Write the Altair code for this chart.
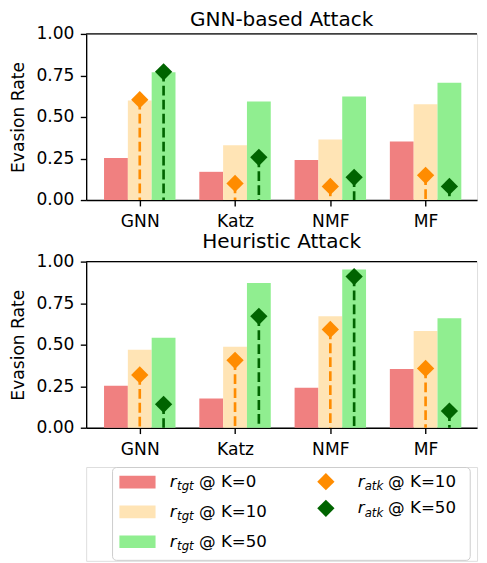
import altair as alt
import pandas as pd

# ---------------- data ----------------
models = ["GNN", "Katz", "NMF", "MF"]
bar_series = ["r_tgt @ K=0", "r_tgt @ K=10", "r_tgt @ K=50"]
marker_series = ["r_atk @ K=10", "r_atk @ K=50"]

gnn_tgt_k0 = [0.253, 0.170, 0.241, 0.353]
gnn_tgt_k10 = [0.600, 0.330, 0.365, 0.576]
gnn_tgt_k50 = [0.770, 0.594, 0.624, 0.706]
gnn_atk_k10 = [0.604, 0.100, 0.082, 0.149]
gnn_atk_k50 = [0.772, 0.257, 0.137, 0.082]

heu_tgt_k0 = [0.253, 0.176, 0.241, 0.353]
heu_tgt_k10 = [0.470, 0.488, 0.671, 0.582]
heu_tgt_k50 = [0.541, 0.871, 0.953, 0.659]
heu_atk_k10 = [0.318, 0.406, 0.592, 0.357]
heu_atk_k50 = [0.141, 0.671, 0.910, 0.100]

bar_colors = ["#F08080", "#FFE4B5", "#90EE90"]
marker_colors = ["#FF8C00", "#006400"]

FONT = "DejaVu Sans"
BAR_W = 0.25
PLOT_W = 400
PLOT_H = 170
X_DOMAIN = [-0.5625, -0.5625 + PLOT_W / 97.5]
y_ticks = [0.0, 0.25, 0.5, 0.75, 1.0]

label_expr = "[" + ",".join("'%s'" % m for m in models) + "][datum.value]"

xscale = alt.Scale(domain=X_DOMAIN, nice=False, zero=False)
yscale = alt.Scale(domain=[0, 1], nice=False)

xaxis = alt.Axis(values=[0, 1, 2, 3], labelExpr=label_expr, title=None,
                 grid=False, tickSize=6, tickWidth=1.4, domainWidth=1.4,
                 domainColor="black", tickColor="black", labelColor="black",
                 labelFontSize=17.5, labelFont=FONT, labelPadding=7.5,
                 labelFlush=False, labelOverlap=False)
yaxis = alt.Axis(values=y_ticks, format=".2f", title="Evasion Rate",
                 grid=False, tickSize=6, tickWidth=1.4, domainWidth=1.4,
                 domainColor="black", tickColor="black", labelColor="black",
                 labelFontSize=17.5, labelFont=FONT, labelPadding=6.5,
                 titleFontSize=17.5, titleFont=FONT, titleFontWeight="normal",
                 titleColor="black", titlePadding=8.5, labelFlush=False)


def panel(title, title_offset, tgt_lists, atk_lists):
    bar_rows = []
    for j, (series, vals) in enumerate(zip(bar_series, tgt_lists)):
        for i, (m, v) in enumerate(zip(models, vals)):
            left = i + (j - 1) * BAR_W - BAR_W / 2
            bar_rows.append({"model": m, "series": series, "x": left,
                             "x2": left + BAR_W, "value": v})
    bars_df = pd.DataFrame(bar_rows)

    mk_rows = []
    for j, (series, vals) in enumerate(zip(marker_series, atk_lists)):
        for i, (m, v) in enumerate(zip(models, vals)):
            mk_rows.append({"model": m, "series": series,
                            "x": i + j * BAR_W, "value": v})
    mk_df = pd.DataFrame(mk_rows)

    X = alt.X("x:Q", scale=xscale, axis=xaxis, title=None)
    Y = alt.Y("value:Q", scale=yscale, axis=yaxis, title="Evasion Rate")

    bars = alt.Chart(bars_df).mark_bar().encode(
        x=X, x2="x2:Q", y=Y, y2=alt.datum(0),
        color=alt.Color("series:N", scale=alt.Scale(domain=bar_series, range=bar_colors),
                        legend=None),
    )

    stems = alt.Chart(mk_df).mark_rule(strokeWidth=2.7, strokeDash=[10, 4.3]).encode(
        x=X, y=Y, y2=alt.datum(0),
        color=alt.Color("series:N", scale=alt.Scale(domain=marker_series, range=marker_colors),
                        legend=None),
    )

    points = alt.Chart(mk_df).mark_point(shape="diamond", filled=True, size=313,
                                         opacity=1, strokeWidth=0).encode(
        x=X, y=Y,
        fill=alt.Fill("series:N", scale=alt.Scale(domain=marker_series, range=marker_colors),
                      legend=None),
    )

    top_spine = alt.Chart(pd.DataFrame({"value": [1.0]})).mark_rule(
        color="black", strokeWidth=1.4).encode(
        y=Y, x=alt.value(0), x2=alt.value(PLOT_W),
    )

    return alt.layer(bars, stems, points, top_spine).resolve_scale(
        color="independent").properties(
        width=PLOT_W, height=PLOT_H,
        title=alt.TitleParams(title, fontSize=20.5, font=FONT, fontWeight="normal",
                              color="black", anchor="middle", offset=title_offset),
    )


top = panel("GNN-based Attack", -5.25,
            [gnn_tgt_k0, gnn_tgt_k10, gnn_tgt_k50], [gnn_atk_k10, gnn_atk_k50])
bottom = panel("Heuristic Attack", 0.0,
               [heu_tgt_k0, heu_tgt_k10, heu_tgt_k50], [heu_atk_k10, heu_atk_k50])

# ---------------- custom legend (matplotlib style, with subscripts) ----------------
LEG_W = 400
LEG_H = 96
BOX_LEFT_IN_VIEW = 27
lx = alt.Scale(domain=[-BOX_LEFT_IN_VIEW, LEG_W - BOX_LEFT_IN_VIEW], nice=False, zero=False)
ly = alt.Scale(domain=[0, LEG_H], nice=False, zero=False, reverse=True)

box_df = pd.DataFrame({"x": [0.0], "x2": [366.0], "y": [0.5], "y2": [95.5]})
box = alt.Chart(box_df).mark_rect(fill="white", stroke="#cccccc", strokeWidth=1,
                                  cornerRadius=4).encode(
    x=alt.X("x:Q", scale=lx, axis=None), x2="x2:Q",
    y=alt.Y("y:Q", scale=ly, axis=None), y2="y2:Q")

row_gap = 30.5
sw_rows = []
for j, s in enumerate(bar_series):
    c = 15.5 + row_gap * j
    sw_rows.append({"series": s, "x": 7, "x2": 44, "y": c - 6.5, "y2": c + 6.5,
                    "base": c + 5, "sub": s.split(" @ ")[0].split("_")[1],
                    "rest": "@ " + s.split(" @ ")[1]})
sw_df = pd.DataFrame(sw_rows)
swatches = alt.Chart(sw_df).mark_rect().encode(
    x=alt.X("x:Q", scale=lx, axis=None), x2="x2:Q",
    y=alt.Y("y:Q", scale=ly, axis=None), y2="y2:Q",
    color=alt.Color("series:N", scale=alt.Scale(domain=bar_series, range=bar_colors),
                    legend=None))

mk_leg_rows = []
for j, s in enumerate(marker_series):
    c = 15 + 27.3 * j
    mk_leg_rows.append({"series": s, "x": 218.3, "y": c, "base": c + 5,
                        "sub": s.split(" @ ")[0].split("_")[1],
                        "rest": "@ " + s.split(" @ ")[1]})
mk_leg_df = pd.DataFrame(mk_leg_rows)
leg_points = alt.Chart(mk_leg_df).mark_point(shape="diamond", filled=True, size=313,
                                             opacity=1, strokeWidth=0).encode(
    x=alt.X("x:Q", scale=lx, axis=None),
    y=alt.Y("y:Q", scale=ly, axis=None),
    fill=alt.Fill("series:N", scale=alt.Scale(domain=marker_series, range=marker_colors),
                  legend=None))


def leg_text(df, r_x, sub_x, rest_x):
    d = df.assign(rx=r_x, sx=sub_x, tx=rest_x)
    d["sbase"] = d["base"] + 3.5
    r = alt.Chart(d).mark_text(text="r", align="left", baseline="alphabetic",
                               font=FONT, fontSize=17, fontStyle="italic",
                               color="black").encode(
        x=alt.X("rx:Q", scale=lx, axis=None), y=alt.Y("base:Q", scale=ly, axis=None))
    sub = alt.Chart(d).mark_text(align="left", baseline="alphabetic",
                                 font=FONT, fontSize=12, fontStyle="italic",
                                 color="black").encode(
        x=alt.X("sx:Q", scale=lx, axis=None), y=alt.Y("sbase:Q", scale=ly, axis=None),
        text="sub:N")
    rest = alt.Chart(d).mark_text(align="left", baseline="alphabetic",
                                  font=FONT, fontSize=17, color="black").encode(
        x=alt.X("tx:Q", scale=lx, axis=None), y=alt.Y("base:Q", scale=ly, axis=None),
        text="rest:N")
    return [r, sub, rest]


legend = alt.layer(
    box, swatches, leg_points,
    *leg_text(sw_df, 58.5, 66, 88.5),
    *leg_text(mk_leg_df, 251, 258, 282),
).resolve_scale(color="independent").properties(width=LEG_W, height=LEG_H)

panels = alt.vconcat(top, bottom, spacing=1)
chart = alt.vconcat(panels, legend, spacing=7.2).properties(
    padding={"left": 1, "top": -5, "right": 0, "bottom": 0}
).configure_view(stroke="transparent").configure(background="white")

chart.save("out.html", embed_options={"renderer": "svg", "actions": False})
